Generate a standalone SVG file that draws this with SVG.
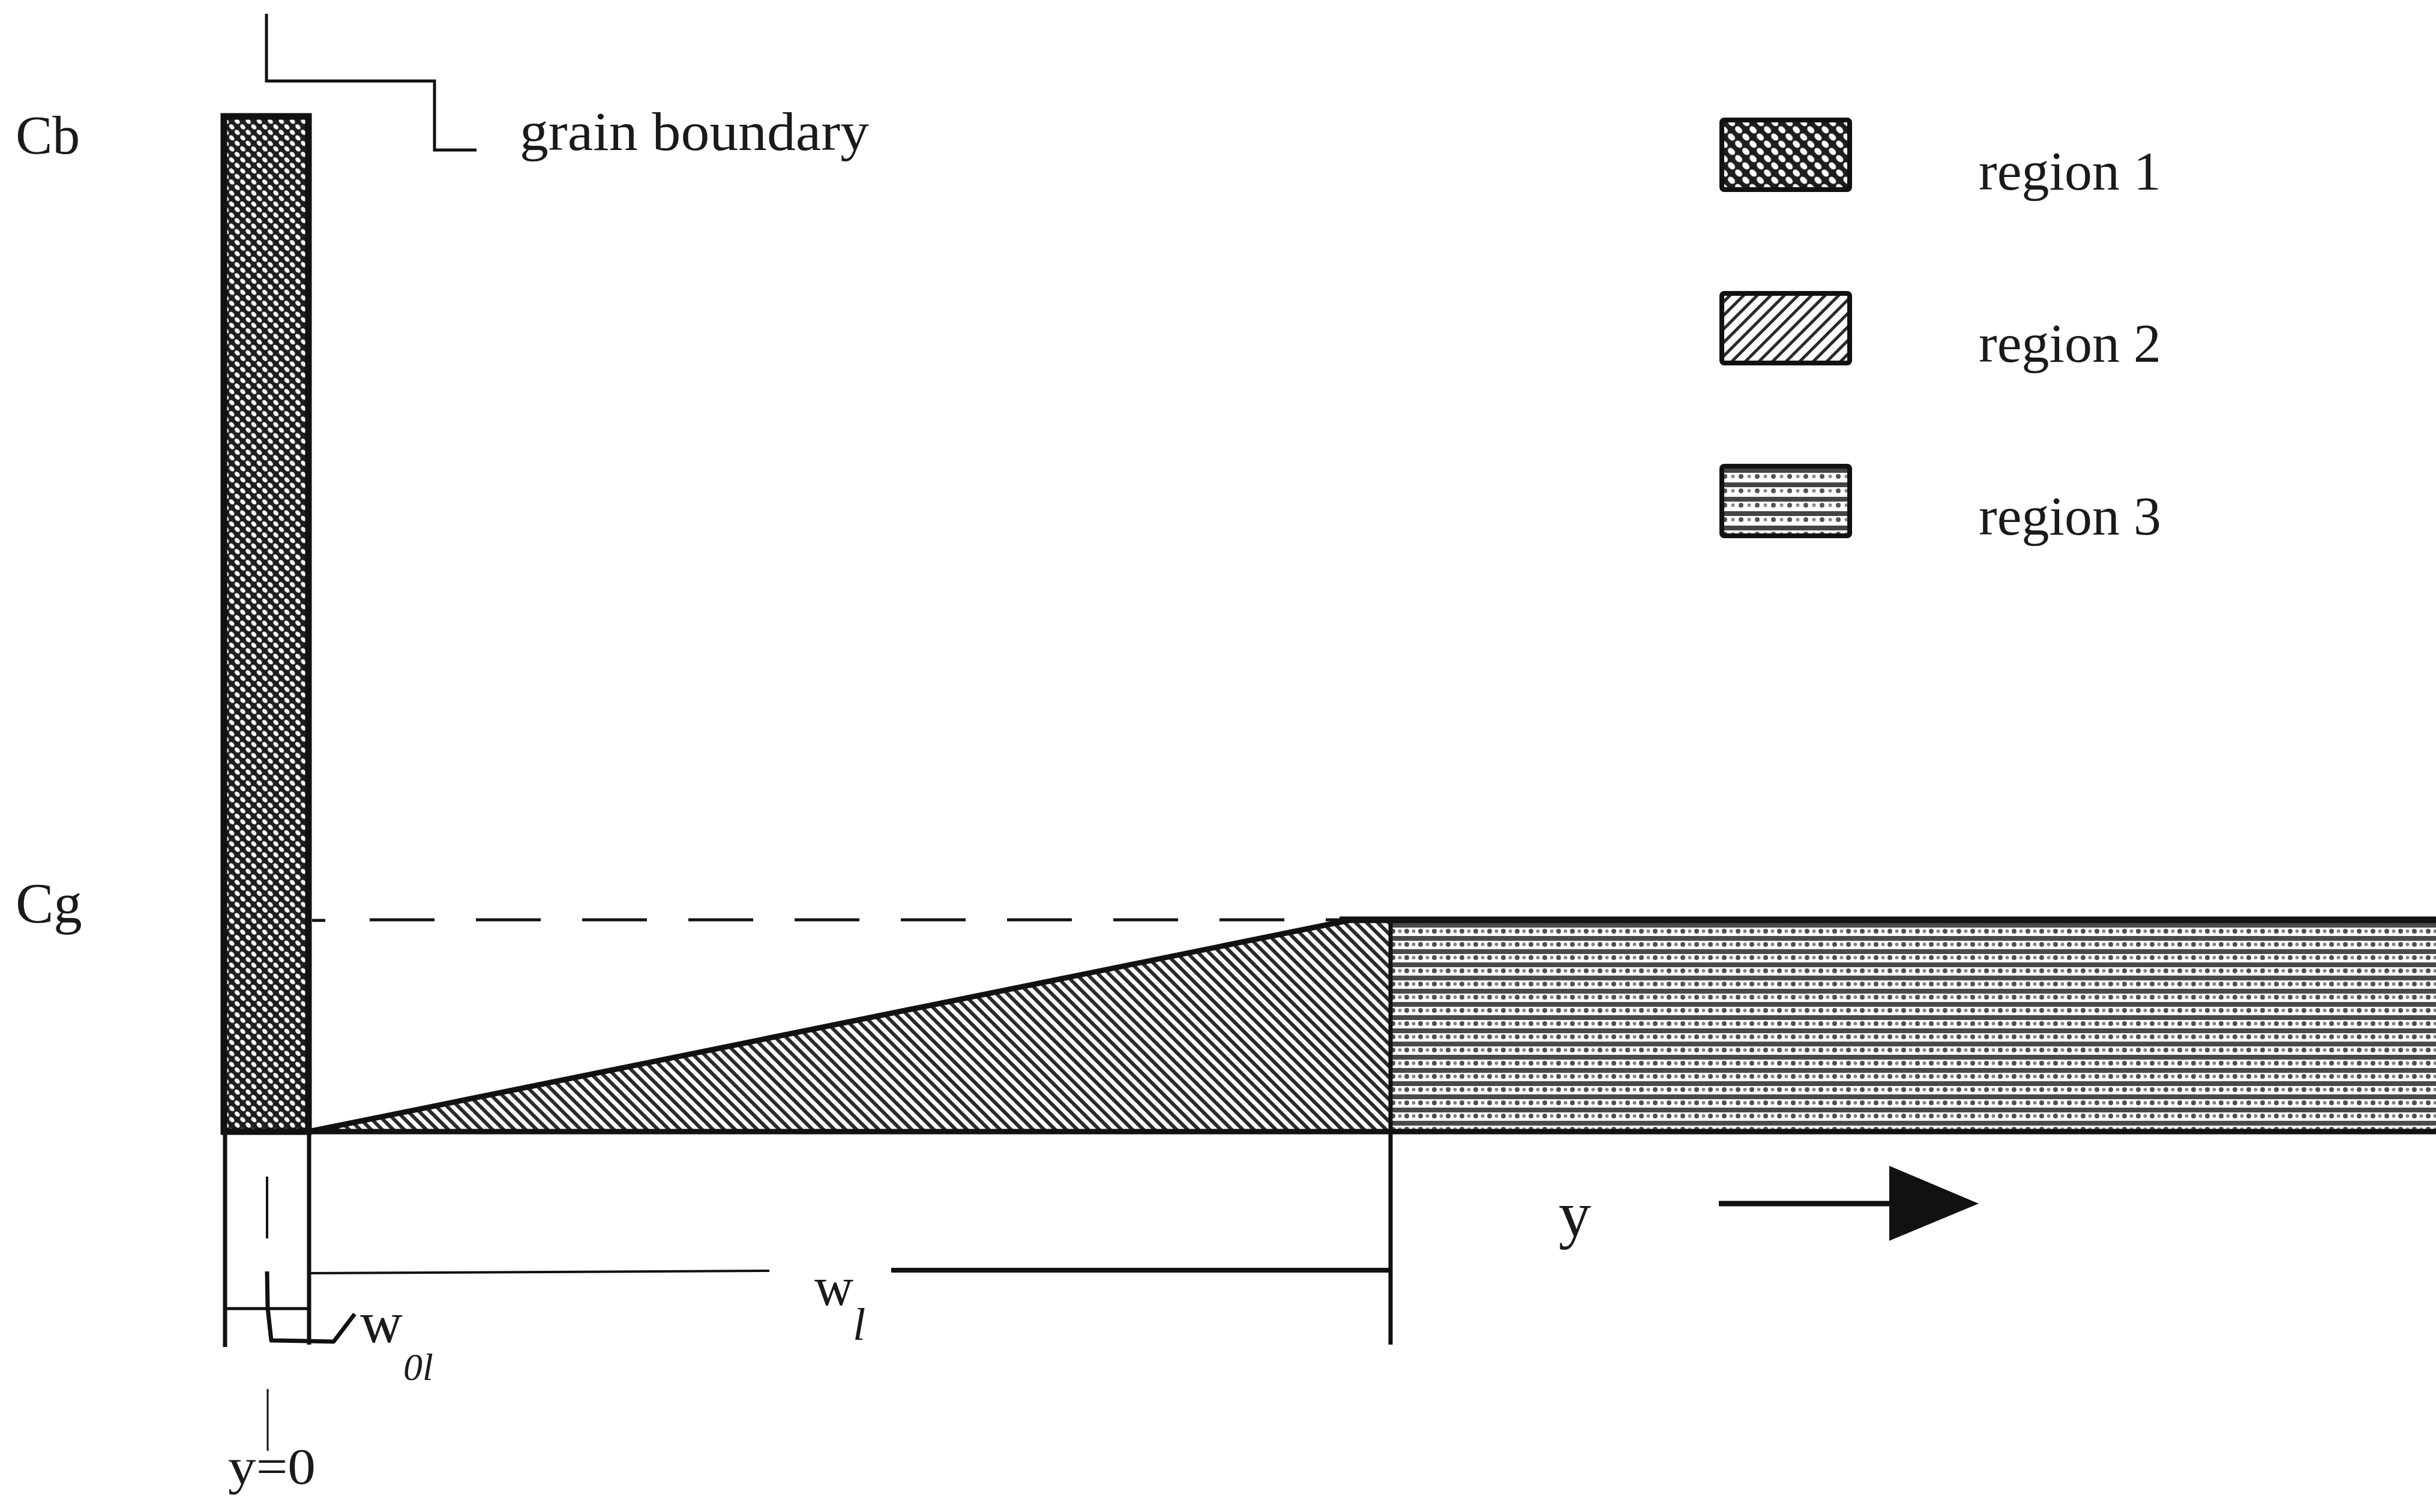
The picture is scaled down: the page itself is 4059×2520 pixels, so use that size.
<svg xmlns="http://www.w3.org/2000/svg" width="4059" height="2520" viewBox="0 0 4059 2520">
<style>
.t{font-family:"Liberation Serif","Times New Roman",serif;fill:#1a1a1a}
.ln{stroke:#111;fill:none;stroke-linecap:butt}
.lg{stroke:#111;stroke-width:8}
</style>
<defs>
<pattern id="p1" width="13" height="13" patternUnits="userSpaceOnUse" patternTransform="rotate(45)">
<rect width="13" height="13" fill="#1e1e1e"/>
<ellipse cx="6.5" cy="6.5" rx="5" ry="3.4" fill="#fff"/>
</pattern>
<pattern id="p1L" width="17" height="17" patternUnits="userSpaceOnUse" patternTransform="rotate(45)">
<rect width="17" height="17" fill="#1e1e1e"/>
<ellipse cx="8.5" cy="8.5" rx="6.8" ry="4.8" fill="#fff"/>
</pattern>
<pattern id="p2" width="13" height="13" patternUnits="userSpaceOnUse" patternTransform="rotate(-45)">
<rect width="13" height="13" fill="#fff"/>
<rect width="6" height="13" fill="#2a2a2a"/>
</pattern>
<pattern id="p2L" width="16" height="16" patternUnits="userSpaceOnUse" patternTransform="rotate(45)">
<rect width="16" height="16" fill="#fff"/>
<rect width="5" height="16" fill="#2a2a2a"/>
</pattern>
<pattern id="p3" width="23" height="22" patternUnits="userSpaceOnUse" x="2317" y="1538">
<rect width="23" height="22" fill="#fff"/>
<rect y="0" width="23" height="8" fill="#4a4a4a"/>
<circle cx="4" cy="14" r="4" fill="#505050"/>
<circle cx="15.5" cy="14" r="3" fill="#808080"/>
</pattern>
<pattern id="p3L" width="27" height="24" patternUnits="userSpaceOnUse" x="2869" y="780">
<rect width="27" height="24" fill="#fff"/>
<rect y="0" width="27" height="8" fill="#444"/>
<circle cx="5" cy="14" r="4" fill="#555"/>
<circle cx="18.5" cy="14" r="3" fill="#888"/>
</pattern>
</defs>

<g id="region3">
<rect x="2317" y="1532" width="1760" height="354" fill="url(#p3)"/>
</g>
<g id="region2">
<polygon points="514,1886 2250,1533 2317,1533 2317,1886" fill="url(#p2)"/>
</g>
<g id="region1">
<rect x="373" y="194" width="141" height="1692" fill="url(#p1)" stroke="#111" stroke-width="11"/>
</g>

<g id="connectors">
<line class="ln" x1="370" y1="1886" x2="4059" y2="1886" stroke-width="9"/>
<line class="ln" x1="514" y1="1886" x2="2252" y2="1533" stroke-width="9"/>
<line class="ln" x1="2232" y1="1533" x2="4059" y2="1533" stroke-width="11"/>
<line class="ln" x1="2317" y1="1528" x2="2317" y2="2241" stroke-width="7"/>
<line class="ln" x1="520" y1="1534" x2="542" y2="1534" stroke-width="5"/>
<line class="ln" x1="616" y1="1533" x2="2232" y2="1533" stroke-width="5" stroke-dasharray="108 69"/>
<polyline class="ln" points="444,23 444,135 724,135 724,250 794,250" stroke-width="5"/>
<line class="ln" x1="375" y1="1886" x2="375" y2="2245" stroke-width="7"/>
<line class="ln" x1="515" y1="1886" x2="515" y2="2241" stroke-width="7"/>
<line class="ln" x1="375" y1="2181" x2="515" y2="2181" stroke-width="5"/>
<line class="ln" x1="445" y1="1961" x2="445" y2="2064" stroke-width="4"/>
<polyline class="ln" points="445,2119 446,2180 452,2234 556,2236 591,2190" stroke-width="7" stroke-linejoin="round"/>
<line class="ln" x1="515" y1="2122" x2="1282" y2="2118" stroke-width="4"/>
<line class="ln" x1="1485" y1="2117" x2="2317" y2="2117" stroke-width="8"/>
<line class="ln" x1="446" y1="2315" x2="446" y2="2418" stroke-width="3"/>
<line class="ln" x1="2864" y1="2006" x2="3160" y2="2006" stroke-width="9"/>
<polygon points="3148,1943 3297,2006 3148,2068" fill="#111"/>
</g>

<g id="legend1">
<rect x="2869" y="200" width="213" height="116" rx="4" fill="url(#p1L)" class="lg"/>
<text class="t" x="3297" y="316" font-size="92">region 1</text>
</g>
<g id="legend2">
<rect x="2869" y="489" width="213" height="116" rx="4" fill="url(#p2L)" class="lg"/>
<text class="t" x="3297" y="603" font-size="92">region 2</text>
</g>
<g id="legend3">
<rect x="2869" y="777" width="213" height="116" rx="4" fill="url(#p3L)" class="lg"/>
<text class="t" x="3297" y="891" font-size="92">region 3</text>
</g>

<g id="labels">
<text class="t" x="26" y="256" font-size="92">Cb</text>
<text class="t" x="26" y="1538" font-size="95">Cg</text>
<text class="t" x="866" y="250" font-size="92" textLength="582" lengthAdjust="spacingAndGlyphs">grain boundary</text>
<text class="t" x="2597" y="2060" font-size="108">y</text>
<text class="t" x="1357" y="2175" font-size="90">w</text>
<text class="t" x="1421" y="2233" font-size="76" font-style="italic">l</text>
<text class="t" x="600" y="2237" font-size="98">w</text>
<text class="t" x="672" y="2300" font-size="64" font-style="italic">0l</text>
<text class="t" x="380" y="2473" font-size="85" textLength="146" lengthAdjust="spacingAndGlyphs">y=0</text>
</g>
</svg>
